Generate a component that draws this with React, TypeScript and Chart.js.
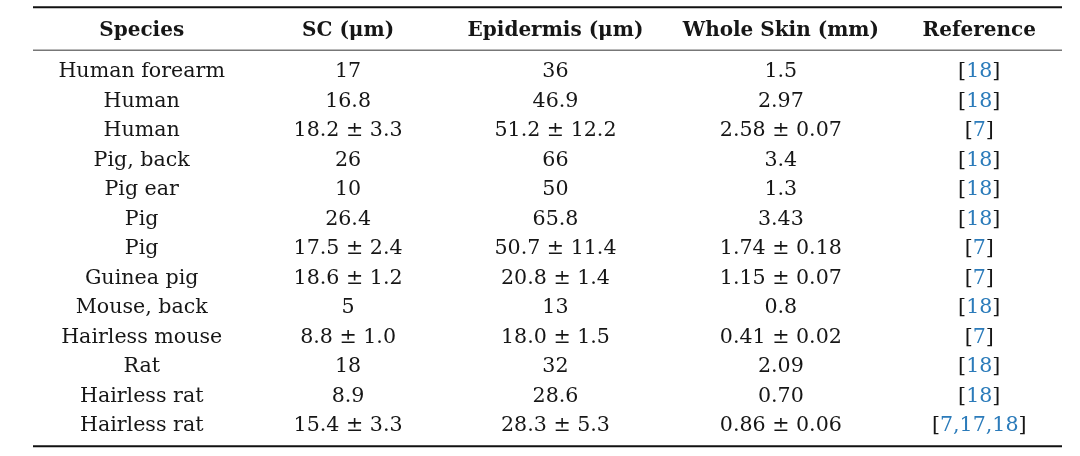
import { useEffect, useRef } from 'react';
import { Chart, registerables } from 'chart.js';

Chart.register(...registerables);

// ---- table content ----
const headers = ['Species', 'SC (μm)', 'Epidermis (μm)', 'Whole Skin (mm)', 'Reference'];

const species = [
  'Human forearm',
  'Human',
  'Human',
  'Pig, back',
  'Pig ear',
  'Pig',
  'Pig',
  'Guinea pig',
  'Mouse, back',
  'Hairless mouse',
  'Rat',
  'Hairless rat',
  'Hairless rat',
];

const scThickness = [
  '17', '16.8', '18.2 ± 3.3', '26', '10', '26.4', '17.5 ± 2.4',
  '18.6 ± 1.2', '5', '8.8 ± 1.0', '18', '8.9', '15.4 ± 3.3',
];

const epidermisThickness = [
  '36', '46.9', '51.2 ± 12.2', '66', '50', '65.8', '50.7 ± 11.4',
  '20.8 ± 1.4', '13', '18.0 ± 1.5', '32', '28.6', '28.3 ± 5.3',
];

const wholeSkinThickness = [
  '1.5', '2.97', '2.58 ± 0.07', '3.4', '1.3', '3.43', '1.74 ± 0.18',
  '1.15 ± 0.07', '0.8', '0.41 ± 0.02', '2.09', '0.70', '0.86 ± 0.06',
];

const references = [
  [18], [18], [7], [18], [18], [18], [7], [7], [18], [7], [18], [18], [7, 17, 18],
];

// ---- layout (relative column widths of the table) ----
const COL_WIDTHS = [218, 196, 220, 232, 166];
const TOTAL_WIDTH = COL_WIDTHS.reduce((a, b) => a + b, 0);
const COL_CENTERS = COL_WIDTHS.map(
  (w, i) => COL_WIDTHS.slice(0, i).reduce((a, b) => a + b, 0) + w / 2
);

const FONT_FAMILY = '"DejaVu Serif", "Liberation Serif", serif';
const HEADER_SIZE = 20;
const BODY_SIZE = 20.6;
const TEXT_COLOR = '#161616';
const LINK_COLOR = '#2b7bba';

const tablePlugin = {
  id: 'tablePlugin',
  afterDraw(chart: any) {
    const { ctx, chartArea, scales } = chart;
    const xs = scales.x;
    const ys = scales.y;
    const left = chartArea.left;
    const right = chartArea.right;

    ctx.save();
    // rules
    ctx.strokeStyle = '#111111';
    ctx.lineWidth = 2;
    ctx.beginPath();
    ctx.moveTo(left, chartArea.top - 50);
    ctx.lineTo(right, chartArea.top - 50);
    ctx.stroke();

    ctx.beginPath();
    ctx.moveTo(left, chartArea.bottom + 5.5);
    ctx.lineTo(right, chartArea.bottom + 5.5);
    ctx.stroke();

    ctx.strokeStyle = '#777777';
    ctx.lineWidth = 1.3;
    ctx.beginPath();
    ctx.moveTo(left, chartArea.top - 7);
    ctx.lineTo(right, chartArea.top - 7);
    ctx.stroke();

    ctx.textBaseline = 'middle';
    ctx.textAlign = 'center';

    // header
    ctx.fillStyle = TEXT_COLOR;
    ctx.font = `bold ${HEADER_SIZE}px ${FONT_FAMILY}`;
    headers.forEach((h, j) => {
      ctx.fillText(h, xs.getPixelForValue(COL_CENTERS[j]), chartArea.top - 26);
    });

    // body
    ctx.font = `${BODY_SIZE}px ${FONT_FAMILY}`;
    const columns = [species, scThickness, epidermisThickness, wholeSkinThickness];
    species.forEach((_, i) => {
      const y = ys.getPixelForValue(i);
      columns.forEach((col, j) => {
        ctx.fillStyle = TEXT_COLOR;
        ctx.textAlign = 'center';
        ctx.fillText(col[i], xs.getPixelForValue(COL_CENTERS[j]), y);
      });
      // reference cell with coloured citation numbers
      const inner = references[i].join(',');
      const wOpen = ctx.measureText('[').width;
      const wInner = ctx.measureText(inner).width;
      const wClose = ctx.measureText(']').width;
      const total = wOpen + wInner + wClose;
      let x = xs.getPixelForValue(COL_CENTERS[4]) - total / 2;
      ctx.textAlign = 'left';
      ctx.fillStyle = TEXT_COLOR;
      ctx.fillText('[', x, y);
      x += wOpen;
      ctx.fillStyle = LINK_COLOR;
      ctx.fillText(inner, x, y);
      x += wInner;
      ctx.fillStyle = TEXT_COLOR;
      ctx.fillText(']', x, y);
    });
    ctx.restore();
  },
};

export default function App() {
  const ref = useRef<HTMLCanvasElement | null>(null);

  useEffect(() => {
    if (!ref.current) return;
    const chart = new Chart(ref.current, {
      type: 'scatter',
      data: {
        datasets: [
          {
            data: species.map((_, i) => ({ x: COL_CENTERS[0], y: i })),
            pointRadius: 0,
            pointHoverRadius: 0,
          },
        ],
      },
      options: {
        responsive: false,
        animation: false,
        events: [],
        layout: { padding: { left: 33, right: 18, top: 57.25, bottom: 15.25 } },
        plugins: { legend: { display: false }, tooltip: { enabled: false } },
        scales: {
          x: { type: 'linear', display: false, min: 0, max: TOTAL_WIDTH },
          y: { type: 'linear', display: false, min: -0.5, max: species.length - 0.5, reverse: true },
        },
      },
      plugins: [tablePlugin],
    });
    return () => chart.destroy();
  }, []);

  return (
    <div style={{ position: 'absolute', left: 0, top: 0, width: 1080, height: 456, background: '#ffffff' }}>
      <canvas ref={ref} width={1080} height={456} style={{ display: 'block' }} />
    </div>
  );
}
